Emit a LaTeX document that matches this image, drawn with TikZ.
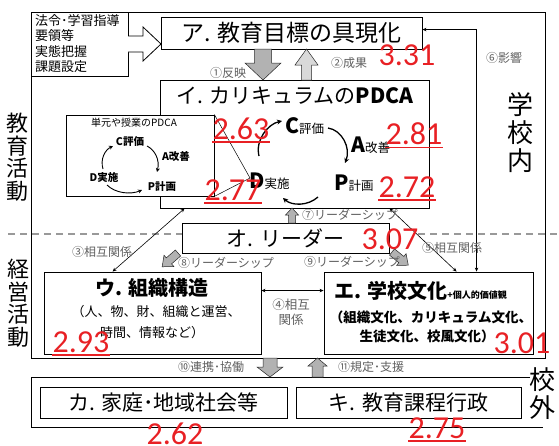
\documentclass[tikz,border=0pt]{standalone}
\usepackage{fontspec}
\setmainfont{Noto Sans CJK JP}
\newfontfamily\numfont{Carlito}
\usetikzlibrary{calc,arrows.meta}
\definecolor{numred}{RGB}{232,32,36}
\definecolor{lblgray}{RGB}{95,95,95}
\tikzset{
 frame/.style={draw=black, line width=0.8pt},
 divider/.style={draw=gray!80, line width=1.1pt, dash pattern=on 7pt off 5pt},
 box/.style={draw=black, line width=0.9pt, fill=white, inner sep=0pt},
 ttl/.style={inner sep=0pt, font=\fontsize{21}{21}\selectfont},
 num/.style={inner sep=0pt, text=numred, font=\numfont\fontsize{32}{32}\selectfont},
 ul/.style={draw=numred, line width=1.6pt},
 lbl/.style={inner sep=0pt, text=lblgray, font=\fontsize{12}{12}\selectfont},
 rel/.style={line width=0.6pt, {Stealth[length=4pt,width=3.5pt]}-{Stealth[length=4pt,width=3.5pt]}},
 garrow/.style={fill=gray!60, draw=gray!30!black, line width=0.5pt},
 garrowl/.style={fill=gray!30, draw=gray!30!black, line width=0.5pt},
 cyc/.style={line width=1.3pt, -{Stealth[length=5pt,width=5pt]}},
 scyc/.style={line width=0.9pt, -{Stealth[length=4pt,width=4pt]}},
 vlab/.style={inner sep=0pt, align=center, font=\fontsize{22}{22.5}\selectfont},
 vlabb/.style={inner sep=0pt, align=center, font=\fontsize{26}{28}\selectfont},
}
% #1 style, #2 x, #3 y, #4 angle, #5 length, #6 shaft half width, #7 head half width, #8 head length
\newcommand{\blockarr}[8]{%
 \begin{scope}[shift={(#2,#3)}, rotate=#4]
 \path[#1] (0,-#6) -- ({#5-#8},-#6) -- ({#5-#8},-#7) -- (#5,0) -- ({#5-#8},#7) -- ({#5-#8},#6) -- (0,#6) -- cycle;
 \end{scope}}
\begin{document}
\begin{tikzpicture}[x=1pt,y=-1pt]
\useasboundingbox (0,0) rectangle (559,445);

% frames and divider
\draw[frame] (31,12) rectangle (545,358);
\draw[frame] (530,377) -- (31,377) -- (31,427) -- (543,427);
\draw[divider] (8,234) -- (182,234);
\draw[divider] (418,234) -- (559,234);

% side labels
\node[vlab] (kyoiku) at (17,157) {教\\育\\活\\動};
\node[vlab] (keiei) at (18,303) {経\\営\\活\\動};
\node[vlabb] (gakkonai) at (520,133) {学\\校\\内};
\node[vlabb] (kogai) at (542,394) {校\\外};

% boxes
\node[box, minimum width=97pt, minimum height=64pt] (L) at (79.5,44) {};
\node[anchor=north west, inner sep=0pt, align=left, font=\fontsize{13}{15.5}\selectfont] (Lt) at (35,14) {法令･学習指導\\要領等\\実態把握\\課題設定};
\node[box, minimum width=261pt, minimum height=32pt, font=\fontsize{23}{23}\selectfont] (A) at (291.5,33) {ア. 教育目標の具現化};
\node[box, minimum width=269pt, minimum height=128pt] (I) at (294.5,144) {};
\node[ttl] (It) at (295,96) {イ. カリキュラムの\textbf{PDCA}};
\node[box, line width=0.8pt, minimum width=148pt, minimum height=81pt] (S) at (140,155.5) {};
\node[box, minimum width=207pt, minimum height=30pt, font=\fontsize{21}{21}\selectfont] (O) at (285.5,238) {オ. リーダー};
\node[box, minimum width=217pt, minimum height=82pt] (U) at (152.5,313) {};
\node[box, minimum width=209pt, minimum height=82pt] (E) at (428.5,313) {};
\node[box, minimum width=247pt, minimum height=31pt, font=\fontsize{21}{21}\selectfont] (K) at (163.5,402.5) {カ. 家庭･地域社会等};
\node[box, minimum width=225pt, minimum height=31pt, font=\fontsize{21}{21}\selectfont] (Ki) at (408.5,402.5) {キ. 教育課程行政};

% hollow arrow from law box to A
\draw[line width=0.8pt, fill=white] (128,36) -- (143,36) -- (143,27) -- (161,44) -- (143,61) -- (143,52) -- (128,52);

% U and E texts
\node[inner sep=0pt, font=\fontsize{20}{20}\selectfont\bfseries] (Ut) at (152,288) {ウ. 組織構造};
\node[inner sep=0pt, font=\fontsize{13}{13}\selectfont] (Us1) at (156,312) {（人、物、財、組織と運営、};
\node[inner sep=0pt, font=\fontsize{13}{13}\selectfont] (Us2) at (152,333) {時間、情報など）};
\node[inner sep=0pt, anchor=base west] (Et) at (334,298) {{\fontsize{20}{20}\selectfont\bfseries エ. 学校文化}{\fontsize{9}{10}\selectfont\bfseries +個人的価値観}};
\node[inner sep=0pt, font=\fontsize{13.5}{13.5}\selectfont\bfseries] (Es1) at (431,317) {（組織文化、カリキュラム文化、};
\node[inner sep=0pt, font=\fontsize{13.5}{13.5}\selectfont\bfseries] (Es2) at (427,336) {生徒文化、校風文化）};

% small PDCA
\node[inner sep=0pt, font=\fontsize{10}{10}\selectfont] (St) at (134,123) {単元や授業のPDCA};
\node[inner sep=0pt, font=\fontsize{10.5}{10.5}\selectfont\bfseries] (sC) at (130,142) {C評価};
\node[inner sep=0pt, font=\fontsize{10.5}{10.5}\selectfont\bfseries] (sA) at (176,157) {A改善};
\node[inner sep=0pt, font=\fontsize{10.5}{10.5}\selectfont\bfseries] (sD) at (104,178) {D実施};
\node[inner sep=0pt, font=\fontsize{10.5}{10.5}\selectfont\bfseries] (sP) at (162,187) {P計画};
\draw[scyc] (103,169) .. controls (100,159) and (105,150) .. (113,146);
\draw[scyc] (147,146) .. controls (155,150) and (160,160) .. (157,172);
\draw[scyc] (107,185) .. controls (115,193) and (130,195) .. (142,190);

% big PDCA
\node[inner sep=0pt, anchor=base west] (bC) at (285,133) {{\fontsize{21}{21}\selectfont\bfseries C}{\fontsize{12.5}{13}\selectfont 評価}};
\node[inner sep=0pt, anchor=base west] (bA) at (351,152) {{\fontsize{21}{21}\selectfont\bfseries A}{\fontsize{12.5}{13}\selectfont 改善}};
\node[inner sep=0pt, anchor=base west] (bD) at (249,188) {{\fontsize{21}{21}\selectfont\bfseries D}{\fontsize{12.5}{13}\selectfont 実施}};
\node[inner sep=0pt, anchor=base west] (bP) at (334,190) {{\fontsize{21}{21}\selectfont\bfseries P}{\fontsize{12.5}{13}\selectfont 計画}};
\draw[cyc] (259,156) .. controls (255,140) and (268,124) .. (282,121);
\draw[cyc] (328,128) .. controls (342,130) and (351,148) .. (345,163);
\draw[cyc] (318,197) .. controls (308,206) and (292,206) .. (283,198);

% callout lines
\coordinate (Dp) at (250,178);
\draw[line width=0.5pt] (S.north east) -- (Dp) -- (S.south east);

% gray block arrows
\blockarr{garrow}{263}{49}{-90}{31}{8.5}{18}{17}
\blockarr{garrowl}{306.5}{80}{90}{31}{5}{11.5}{16}
\blockarr{garrow}{292}{223}{90}{15}{3.5}{6.5}{7}
\blockarr{garrow}{178}{253}{-139}{21}{4}{7.5}{9}
\blockarr{garrow}{392}{252}{-39}{21}{4}{7.5}{9}
\blockarr{garrow}{270}{358}{-90}{19}{7}{13}{10}
\blockarr{garrow}{317.5}{377}{90}{19}{5.5}{9.5}{8}

% relation arrows
\draw[rel] ($(U.north west)+(69,0)$) -- ($(I.south west)+(25,0)$);
\draw[rel] ($(I.south west)+(230,0)$) -- ($(E.north west)+(133,0)$);
\draw[rel] ($(A.north east)+(0,13)$) -| ($(E.north west)+(153,0)$);
\draw[rel] ($(U.north east)+(0,19)$) -- ($(E.north west)+(0,19)$);

% gray labels
\node[lbl] (l1) at (228,73) {①反映};
\node[lbl] (l2) at (349,63) {②成果};
\node[lbl] (l3) at (102,252) {③相互関係};
\node[lbl, align=center, font=\fontsize{12.5}{15}\selectfont] (l4) at (291,312) {④相互\\関係};
\node[lbl] (l5) at (452,248) {⑤相互関係};
\node[lbl] (l6) at (504,58) {⑥影響};
\node[lbl] (l7) at (350,215) {⑦リーダーシップ};
\node[lbl] (l8) at (226,263) {⑧リーダーシップ};
\node[lbl] (l9) at (352,262) {⑨リーダーシップ};
\node[lbl] (l10) at (211,367) {⑩連携･協働};
\node[lbl] (l11) at (371,367) {⑪規定･支援};

% red numbers
\node[num] (n331) at (407,55) {3.31};
\node[num] (n263) at (241,129) {2.63};
\node[num] (n281) at (414,134) {2.81};
\node[num] (n272) at (407,187) {2.72};
\node[num] (n277) at (233,190) {2.77};
\node[num] (n307) at (390,239) {3.07};
\node[num] (n293) at (81,342) {2.93};
\node[num] (n301) at (522,343) {3.01};
\node[num] (n262) at (175,434) {2.62};
\node[num] (n275) at (437,428) {2.75};
\foreach \n in {n263,n281,n272,n277,n293,n275}
 \draw[ul] ([yshift=-2.5pt]\n.base west) -- ([yshift=-2.5pt]\n.base east);
\end{tikzpicture}
\end{document}
